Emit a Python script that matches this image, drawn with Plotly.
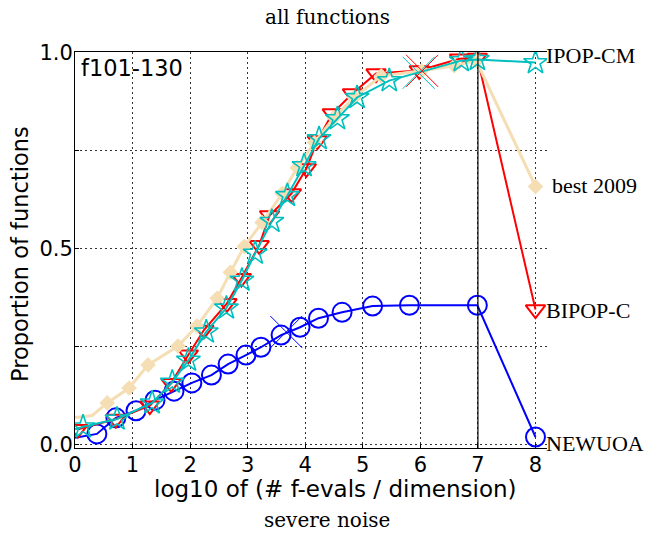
import plotly.graph_objects as go
import numpy as np

# ---- data ----
newuoa_x = [0.0, 0.38, 0.71, 1.06, 1.39, 1.72, 2.03, 2.37, 2.66, 2.97, 3.23, 3.58, 3.91, 4.23, 4.64, 5.17, 5.81, 6.99, 8.0]
newuoa_y = [0.018, 0.028, 0.069, 0.087, 0.114, 0.137, 0.158, 0.178, 0.206, 0.229, 0.249, 0.28, 0.30, 0.323, 0.338, 0.354, 0.356, 0.356, 0.02]

bipop_x = [0.05, 0.71, 1.30, 1.67, 1.97, 2.24, 2.64, 2.89, 3.2, 3.38, 3.76, 4.02, 4.21, 4.47, 4.82, 5.23, 5.98, 6.68, 6.99, 8.0]
bipop_y = [0.04, 0.066, 0.10, 0.157, 0.23, 0.293, 0.361, 0.425, 0.509, 0.585, 0.641, 0.705, 0.776, 0.845, 0.896, 0.947, 0.955, 0.985, 0.987, 0.345]

ipop_x = [0.0, 0.14, 0.73, 1.34, 1.69, 1.97, 2.28, 2.63, 2.9, 3.13, 3.42, 3.69, 3.98, 4.24, 4.56, 4.9, 5.46, 6.71, 6.99, 8.0]
ipop_y = [0.04, 0.046, 0.066, 0.107, 0.16, 0.216, 0.288, 0.349, 0.42, 0.489, 0.57, 0.636, 0.712, 0.781, 0.832, 0.886, 0.929, 0.98, 0.983, 0.975]

best_x = [0.0, 0.3, 0.56, 0.94, 1.27, 1.79, 2.12, 2.47, 2.7, 2.94, 3.25, 3.6, 3.86, 4.16, 4.5, 4.85, 5.32, 6.02, 6.59, 6.97, 8.0]
best_y = [0.07, 0.075, 0.107, 0.145, 0.204, 0.252, 0.303, 0.374, 0.44, 0.506, 0.567, 0.641, 0.707, 0.771, 0.835, 0.886, 0.941, 0.954, 0.967, 0.98, 0.659]

# median-budget crosses
cross_names = ["NEWUOA", "BIPOP-C", "IPOP-CM"]
cross_x = [3.67, 6.03, 5.97]
cross_y = [0.288, 0.954, 0.949]

end_labels = ["IPOP-CM", "best 2009", "BIPOP-C", "NEWUOA"]
end_label_y = [0.992, 0.662, 0.348, 0.0126]

x_ticks = [0, 1, 2, 3, 4, 5, 6, 7, 8]
y_ticks = [0.0, 0.25, 0.5, 0.75, 1.0]
y_ticklabels = ["0.0", "", "0.5", "", "1.0"]
budget_line_x = 7

# ---- figure ----
fig = go.Figure()

def add_series(xs, ys, color, lw, symbol, msize, mlw, skip_marker_x=(0.0, 0.3)):
    xs = np.array(xs); ys = np.array(ys)
    fig.add_trace(go.Scatter(x=xs, y=ys, mode="lines",
                             line=dict(color=color, width=lw), hoverinfo="skip",
                             showlegend=False))
    mask = ~np.isin(xs, skip_marker_x)
    mk = dict(symbol=symbol, size=msize, color=color,
              line=dict(color=color, width=mlw))
    fig.add_trace(go.Scatter(x=xs[mask], y=ys[mask], mode="markers", marker=mk,
                             showlegend=False))

add_series(newuoa_x, newuoa_y, "#0000FF", 2, "circle-open", 19, 2)
add_series(bipop_x, bipop_y, "#FF0000", 2, "triangle-down-open", 17, 2)
add_series(best_x, best_y, "#F5DEB3", 3, "diamond", 12, 0)
add_series(ipop_x, ipop_y, "#00BFBF", 2, "star-open", 18, 1.6)

cross_colors = {"NEWUOA": "#0000FF", "BIPOP-C": "#FF0000", "IPOP-CM": "#00BFBF"}
for n, cx, cy in zip(cross_names, cross_x, cross_y):
    fig.add_trace(go.Scatter(x=[cx], y=[cy], mode="markers", showlegend=False,
                             marker=dict(symbol="x-thin-open", size=32,
                                         color=cross_colors[n],
                                         line=dict(color=cross_colors[n], width=1))))

fig.add_shape(type="line", xref="x", yref="paper", x0=budget_line_x, x1=budget_line_x,
              y0=0, y1=1, line=dict(color="black", width=1.2))

W, H = 647, 539
L, T = 75, 52
pw, ph = 472, 396
R, B = W - L - pw, H - T - ph

def px2paper(px, py):
    return (px - L) / pw, (T + ph - py) / ph

anns = []
serif = "DejaVu Serif"
for lab, ly in zip(end_labels, end_label_y):
    xx = 1.0 if lab != "best 2009" else 1.012
    anns.append(dict(text=lab, xref="paper", yref="paper", x=xx, y=ly, xshift=-2,
                     xanchor="left", yanchor="middle", showarrow=False, borderpad=0,
                     font=dict(family="Liberation Serif", size=22, color="black")))

tx, ty = px2paper(327, 17)
anns.append(dict(text="all functions", xref="paper", yref="paper", x=tx, y=ty,
                 xanchor="center", yanchor="middle", showarrow=False, borderpad=0,
                 font=dict(family=serif, size=20, color="black")))
sx, sy = px2paper(327, 520)
anns.append(dict(text="severe noise", xref="paper", yref="paper", x=sx, y=sy,
                 xanchor="center", yanchor="middle", showarrow=False, borderpad=0,
                 font=dict(family=serif, size=20, color="black")))
xx, xy = px2paper(335, 489)
anns.append(dict(text="log10 of (# f-evals / dimension)", xref="paper", yref="paper",
                 x=xx, y=xy, xanchor="center", yanchor="middle", showarrow=False,
                 borderpad=0,
                 font=dict(family="DejaVu Sans", size=23, color="black")))
yx, yy = px2paper(20, 254)
anns.append(dict(text="Proportion of functions", xref="paper", yref="paper",
                 x=yx, y=yy, xanchor="center", yanchor="middle", showarrow=False,
                 textangle=-90, font=dict(family="DejaVu Sans", size=22.5, color="black")))
fx, fy = px2paper(79, 68)
anns.append(dict(text="f101-130", xref="paper", yref="paper", x=fx, y=fy,
                 xanchor="left", yanchor="middle", showarrow=False,
                 font=dict(family="DejaVu Sans", size=22.5, color="black")))

fig.update_layout(
    width=W, height=H,
    margin=dict(l=L, r=R, t=T, b=B, autoexpand=False),
    paper_bgcolor="white", plot_bgcolor="white",
    annotations=anns,
    showlegend=False,
)
grid_dash = "1.5px,3.5px"
fig.update_xaxes(range=[0, 8.2], tickvals=x_ticks, showgrid=True, gridcolor="#333",
                 griddash=grid_dash, gridwidth=1, showline=True, linecolor="black",
                 linewidth=1, mirror=True, ticks="inside", ticklen=4, tickcolor="black",
                 zeroline=False, automargin=False, ticklabelstandoff=-2,
                 tickfont=dict(family="DejaVu Sans", size=21, color="black"))
fig.update_yaxes(range=[-0.008, 1.002], tickvals=y_ticks, ticktext=y_ticklabels,
                 showgrid=True, gridcolor="#333", griddash=grid_dash, gridwidth=1,
                 showline=True, linecolor="black", linewidth=1, mirror=False,
                 ticks="inside", ticklen=4, tickcolor="black", zeroline=False,
                 automargin=False, ticklabelstandoff=-3,
                 tickfont=dict(family="DejaVu Sans", size=21, color="black"))

fig.write_html("out.html", config={"displayModeBar": False},
               post_script="document.body.style.margin='0';document.body.style.overflow='hidden';")
